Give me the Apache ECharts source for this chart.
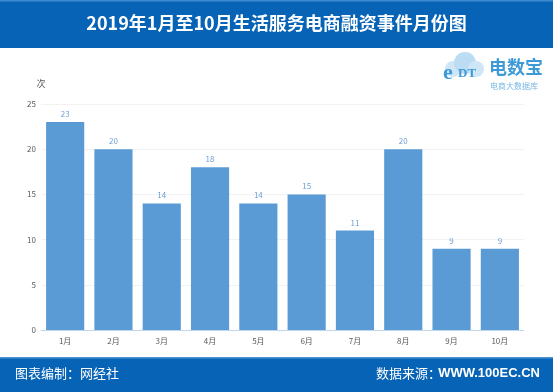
<!DOCTYPE html>
<html><head><meta charset="utf-8">
<script src="https://cdn.jsdelivr.net/npm/echarts@6/dist/echarts.min.js"></script>
<style>html,body{margin:0;padding:0;background:#fff}#c{width:553px;height:392px}</style>
</head><body><div id="c"></div>
<script>
const title = '2019年1月至10月生活服务电商融资事件月份图';
const categories = ['1月','2月','3月','4月','5月','6月','7月','8月','9月','10月'];
const values = [23,20,14,18,14,15,11,20,9,9];
const yTicks = [0,5,10,15,20,25];
const footerLeft = '图表编制：网经社';
const footerRightA = '数据来源：';
const footerRightB = 'WWW.100EC.CN';
const unitName = '次';

const chart = echarts.init(document.getElementById('c'));
const font = '"Microsoft YaHei","Noto Sans CJK SC",sans-serif';
chart.setOption({
  animation:false,
  backgroundColor:'#fff',
  grid:{left:41,right:29,top:104,bottom:62},
  xAxis:{type:'category',data:categories,
    axisLine:{lineStyle:{color:'#bdd7ee'}},axisTick:{show:false},
    axisLabel:{color:'#595959',fontSize:8,fontFamily:font,margin:7}},
  yAxis:{type:'value',min:yTicks[0],max:yTicks[yTicks.length-1],interval:5,
    name:unitName,nameTextStyle:{color:'#595959',fontSize:9,fontFamily:font},
    nameGap:16,
    axisLine:{show:false},axisTick:{show:false},
    axisLabel:{color:'#595959',fontSize:8,fontFamily:font,margin:5},
    splitLine:{lineStyle:{color:'#f2f2f2'}}},
  series:[{type:'bar',data:values,barCategoryGap:'21%',
    itemStyle:{color:'#5b9bd5'},
    label:{show:true,position:'top',color:'#6fa0d6',fontSize:8,fontFamily:font,distance:4}}],
  graphic:[
    {type:'rect',shape:{x:0,y:0,width:553,height:48},style:{fill:'#0663b6'},z:-1},
    {type:'rect',shape:{x:0,y:0,width:553,height:1.5},style:{fill:'#3f8bd0'},z:-1},
    {type:'text',left:'center',top:14,style:{text:title,fill:'#fff',font:'bold 18px '+font}},
    {type:'rect',shape:{x:0,y:357,width:553,height:35},style:{fill:'#0663b6'},z:-1},
    {type:'rect',shape:{x:0,y:357,width:553,height:1.5},style:{fill:'#4a93d4'},z:-1},
    {type:'text',left:15,top:367,style:{text:footerLeft,fill:'#fff',font:'13px '+font}},
    {type:'text',right:13,top:367,style:{text:footerRightB,fill:'#fff',font:'bold 13px Arial, "Liberation Sans", sans-serif'}},
    {type:'text',left:376,top:367,style:{text:footerRightA,fill:'#fff',font:'13px '+font}},
    {type:'group',left:443,top:52,children:[
      {type:'circle',shape:{cx:10,cy:17,r:8},style:{fill:'#cfe6f7'}},
      {type:'circle',shape:{cx:22,cy:11,r:11},style:{fill:'#bcdcf4'}},
      {type:'circle',shape:{cx:33,cy:17,r:8},style:{fill:'#cfe6f7'}},
      {type:'text',x:0,y:10,style:{text:'e',fill:'#3d9ad6',font:'bold 22px serif'}},
      {type:'text',x:15,y:15,style:{text:'DT',fill:'#3d9ad6',font:'bold 13px serif'}},
      {type:'text',x:46,y:6,style:{text:'电数宝',fill:'#3d9ad6',font:'bold 18px '+font}},
      {type:'text',x:47,y:30,style:{text:'电商大数据库',fill:'#7ab8e3',font:'8px '+font}}
    ]}
  ]
});
</script></body></html>
